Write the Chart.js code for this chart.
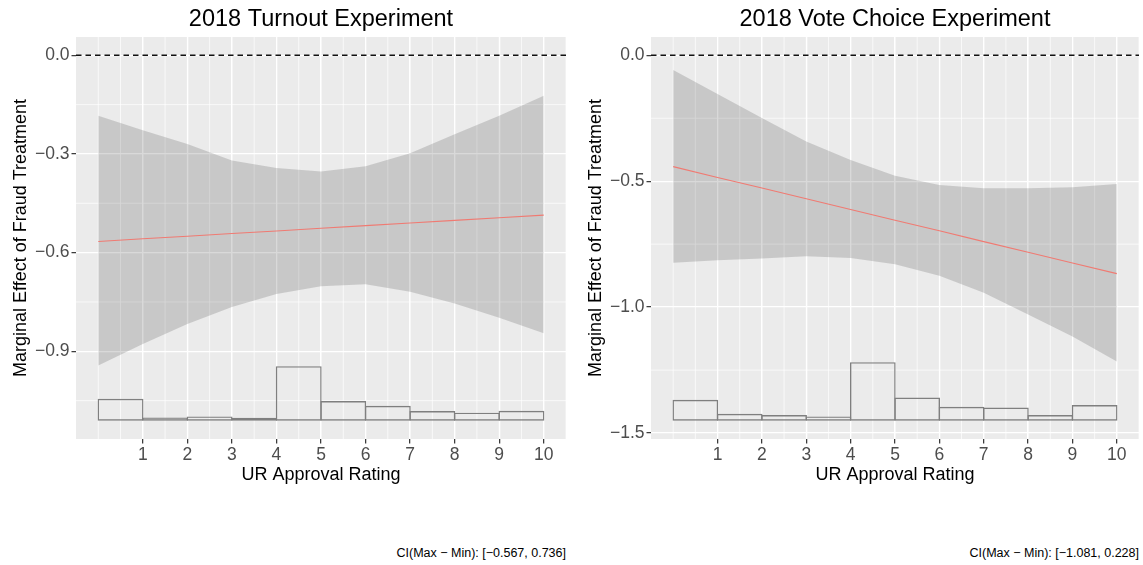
<!DOCTYPE html>
<html>
<head>
<meta charset="utf-8">
<script src="https://cdn.jsdelivr.net/npm/chart.js@4.4.1/dist/chart.umd.min.js"></script>
<style>
html,body{margin:0;padding:0;background:#ffffff;}
body{width:1143px;height:565px;position:relative;overflow:hidden;}
canvas{position:absolute;top:0;}
.note{position:absolute;font-family:"Liberation Sans",Arial,sans-serif;font-size:12.5px;line-height:14px;color:#000;white-space:nowrap;}
</style>
</head>
<body>
<canvas id="turnout" width="571" height="490" style="left:0px"></canvas>
<canvas id="vote" width="568" height="490" style="left:575px"></canvas>
<div class="note" id="noteTurnout" style="right:577px;top:546px"></div>
<div class="note" id="noteVote" style="right:4px;top:546px"></div>
<script>
// ---------------- data ----------------
const turnoutTitle = '2018 Turnout Experiment';
const voteTitle = '2018 Vote Choice Experiment';
const xAxisLabel = 'UR Approval Rating';
const yAxisLabel = 'Marginal Effect of Fraud Treatment';

const moderatorValues = [0, 1, 2, 3, 4, 5, 6, 7, 8, 9, 10];
const xTickValues = [1, 2, 3, 4, 5, 6, 7, 8, 9, 10];
const xMinorValues = [0, 0.5, 1, 1.5, 2, 2.5, 3, 3.5, 4, 4.5, 5, 5.5, 6, 6.5, 7, 7.5, 8, 8.5, 9, 9.5, 10, 10.5];
const histBinMids = [0.5, 1.5, 2.5, 3.5, 4.5, 5.5, 6.5, 7.5, 8.5, 9.5];

const turnoutME    = [-0.566, -0.558, -0.550, -0.542, -0.534, -0.526, -0.518, -0.510, -0.502, -0.494, -0.486];
const turnoutUpper = [-0.184, -0.228, -0.270, -0.320, -0.343, -0.353, -0.337, -0.298, -0.240, -0.184, -0.123];
const turnoutLower = [-0.943, -0.878, -0.817, -0.765, -0.726, -0.702, -0.696, -0.719, -0.755, -0.798, -0.845];
const turnoutHistBase = -1.111;
const turnoutHistHeights = [0.0667, 0.0100, 0.0130, 0.0091, 0.1658, 0.0597, 0.0455, 0.0294, 0.0245, 0.0303];
const turnoutYTicks = [0, -0.3, -0.6, -0.9];
const turnoutYMinor = [-0.15, -0.45, -0.75, -1.05];
const turnoutCI = 'CI(Max \u2212 Min): [\u22120.567, 0.736]';

const voteME    = [-0.442, -0.485, -0.527, -0.570, -0.612, -0.655, -0.697, -0.740, -0.782, -0.825, -0.867];
const voteUpper = [-0.058, -0.154, -0.249, -0.342, -0.416, -0.478, -0.515, -0.528, -0.528, -0.524, -0.511];
const voteLower = [-0.824, -0.814, -0.807, -0.798, -0.805, -0.830, -0.875, -0.943, -1.029, -1.117, -1.216];
const voteHistBase = -1.451;
const voteHistHeights = [0.0831, 0.0277, 0.0226, 0.0170, 0.2323, 0.0922, 0.0554, 0.0526, 0.0226, 0.0621];
const voteYTicks = [0, -0.5, -1.0, -1.5];
const voteYMinor = [-0.25, -0.75, -1.25];
const voteCI = 'CI(Max \u2212 Min): [\u22121.081, 0.228]';

// ---------------- styling ----------------
const FONT = '"Liberation Sans", Arial, Helvetica, sans-serif';
const PANEL_BG = '#EBEBEB';
const fmtY = v => (v < -1e-9 ? '\u2212' : '') + Math.abs(v).toFixed(1);

const panelPlugin = {
  id: 'panelGrid',
  beforeDraw(chart, args, opts) {
    const {ctx, chartArea: a} = chart;
    ctx.save();
    ctx.fillStyle = PANEL_BG;
    ctx.fillRect(a.left, a.top, a.right - a.left, a.bottom - a.top);
    ctx.restore();
  },
  beforeDatasetsDraw(chart, args, opts) {
    const {ctx, chartArea: a, scales: {x, y}} = chart;
    ctx.save();
    ctx.strokeStyle = '#FFFFFF';
    ctx.lineWidth = opts.minorWidth;
    ctx.beginPath();
    opts.xMinor.forEach(v => {
      const p = x.getPixelForValue(v);
      ctx.moveTo(p, a.top); ctx.lineTo(p, a.bottom);
    });
    opts.yMinor.forEach(v => {
      const p = y.getPixelForValue(v);
      ctx.moveTo(a.left, p); ctx.lineTo(a.right, p);
    });
    ctx.stroke();
    ctx.restore();
  }
};

function makePanel(id, title, me, upper, lower, histBase, histHeights, yTicks, yMinor, padRight) {
  const range = 0 - histBase;
  const yMin = histBase - 0.05 * range;
  const yMax = 0 + 0.05 * range;
  const xMin = -0.5, xMax = 10.5;
  const pts = arr => moderatorValues.map((x, i) => ({x: x, y: arr[i]}));
  const bars = histBinMids.map((x, i) => ({x: x, y: [histBase, histBase + histHeights[i]]}));

  return new Chart(document.getElementById(id), {
    type: 'line',
    data: {
      datasets: [
        {type: 'line', data: pts(upper), borderWidth: 0, pointRadius: 0, fill: '+1',
         backgroundColor: 'rgba(51,51,51,0.19)', borderColor: 'rgba(0,0,0,0)', order: 5},
        {type: 'line', data: pts(lower), borderWidth: 0, pointRadius: 0, fill: false,
         borderColor: 'rgba(0,0,0,0)', order: 5},
        {type: 'bar', data: bars, backgroundColor: 'rgba(0,0,0,0)', borderColor: '#7F7F7F',
         borderWidth: 1.4, borderSkipped: false, barPercentage: 1.03, categoryPercentage: 1,
         inflateAmount: 0, grouped: false, order: 3},
        {type: 'line', data: pts(me), borderColor: '#F07A72', borderWidth: 1.1, pointRadius: 0,
         fill: false, order: 2},
        {type: 'line', data: [{x: xMin, y: 0}, {x: xMax, y: 0}], borderColor: '#111111',
         borderWidth: 1.4, borderDash: [5.5, 4], pointRadius: 0, fill: false, order: 1}
      ]
    },
    options: {
      responsive: false,
      devicePixelRatio: 1,
      animation: false,
      events: [],
      layout: {padding: {left: 0, right: padRight, top: 0, bottom: 0}},
      plugins: {
        legend: {display: false},
        tooltip: {enabled: false},
        title: {display: true, text: title, fullSize: false, color: '#000000',
                font: {family: FONT, size: 23.5, weight: 'normal'}, padding: {top: 5.6, bottom: 3.2}},
        panelGrid: {xMinor: xMinorValues, yMinor: yMinor, minorWidth: 0.7}
      },
      scales: {
        x: {
          type: 'linear', min: xMin, max: xMax, offset: false,
          afterBuildTicks: s => { s.ticks = xTickValues.map(v => ({value: v})); },
          afterFit: s => { s.height = 51; },
          ticks: {autoSkip: false, maxRotation: 0, minRotation: 0, padding: 1, color: '#4D4D4D',
                  font: {family: FONT, size: 17.5}, callback: v => String(v)},
          grid: {color: '#FFFFFF', lineWidth: 1.3, drawTicks: true, tickLength: 4.5,
                 tickColor: '#333333', tickWidth: 1.2, offset: false},
          border: {display: false},
          title: {display: true, text: xAxisLabel, color: '#000000',
                  font: {family: FONT, size: 18}, padding: {top: 0, bottom: 4.5}}
        },
        y: {
          type: 'linear', min: yMin, max: yMax,
          afterBuildTicks: s => { s.ticks = yTicks.map(v => ({value: v})); },
          afterFit: s => { s.width = 76; },
          ticks: {autoSkip: false, padding: 2, color: '#4D4D4D',
                  font: {family: FONT, size: 17.5}, callback: v => fmtY(v)},
          grid: {color: '#FFFFFF', lineWidth: 1.3, drawTicks: true, tickLength: 4.5,
                 tickColor: '#333333', tickWidth: 1.2},
          border: {display: false},
          title: {display: true, text: yAxisLabel, color: '#000000',
                  font: {family: FONT, size: 18}, padding: {top: 10.7, bottom: 0}}
        }
      }
    },
    plugins: [panelPlugin]
  });
}

makePanel('turnout', turnoutTitle, turnoutME, turnoutUpper, turnoutLower, turnoutHistBase,
          turnoutHistHeights, turnoutYTicks, turnoutYMinor, 5);
makePanel('vote', voteTitle, voteME, voteUpper, voteLower, voteHistBase,
          voteHistHeights, voteYTicks, voteYMinor, 4);
document.getElementById('noteTurnout').textContent = turnoutCI;
document.getElementById('noteVote').textContent = voteCI;
</script>
</body>
</html>
